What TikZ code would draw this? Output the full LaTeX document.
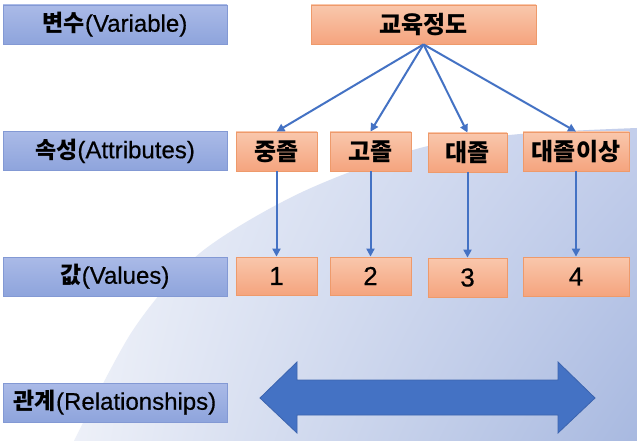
\documentclass[tikz,border=0pt]{standalone}
\usepackage{fontspec}
\setmainfont{Liberation Sans}
\newfontfamily\latm{Liberation Sans}[FakeBold=0.5]
\newfontfamily\kr{Noto Sans CJK KR}
\usetikzlibrary{arrows.meta,shadings}
\definecolor{bgul}{HTML}{F1F4FA}
\definecolor{bgur}{HTML}{C3CEEB}
\definecolor{bgll}{HTML}{EDF0F8}
\definecolor{bglr}{HTML}{A8B9E0}
\definecolor{lbltop}{HTML}{AABAE7}
\definecolor{lblbot}{HTML}{8EA4DC}
\definecolor{lblborder}{HTML}{8399D4}
\definecolor{ortop}{HTML}{F9C7AC}
\definecolor{orbot}{HTML}{F5A47E}
\definecolor{orborder}{HTML}{EE9A6B}
\definecolor{arrowblue}{HTML}{4472C4}
\definecolor{arrowedge}{HTML}{3C64AE}
\tikzset{
  lbl/.style={draw=lblborder, line width=0.8pt, top color=lbltop, bottom color=lblbot,
    minimum width=224pt, minimum height=39pt, inner sep=0pt,
    font=\latm\fontsize{24}{26}\selectfont},
  obox/.style={draw=orborder, line width=0.8pt, top color=ortop, bottom color=orbot,
    minimum width=81pt, minimum height=39pt, inner sep=0pt},
  krb/.style={font=\kr\bfseries\fontsize{24}{26}\selectfont},
  num/.style={font=\latm\fontsize{26}{28}\selectfont},
  conn/.style={draw=arrowblue, line width=2pt, -{Triangle[length=8pt,width=8pt]}}
}
\newcommand{\hg}[1]{{\kr\bfseries\fontsize{23}{25}\selectfont #1}}
\begin{document}
\begin{tikzpicture}[x=1pt,y=-1pt]
\useasboundingbox (0,0) rectangle (637,441);
\fill[white] (0,0) rectangle (637,441);
% background swoosh
\shade[upper left=bgul, upper right=bgur, lower left=bgll, lower right=bglr]
  plot[smooth] coordinates {(74,441) (133,330) (200,253) (300,193) (420,148) (520,134) (637,128)}
  -- (637,441) -- cycle;
% left labels
\node[lbl] (var) at (115,24.5) {\hg{변수}(Variable)};
\node[lbl] (attr) at (115,151) {\hg{속성}(Attributes)};
\node[lbl] (val) at (115,276.5) {\hg{값}(Values)};
\node[lbl] (rel) at (115,402.5) {\hg{관계}(Relationships)};
% top
\node[obox, krb, minimum width=225pt] (edu) at (423.5,24.5) {교육정도};
% attributes
\node[obox, krb] (a1) at (276.5,151.5) {중졸};
\node[obox, krb] (a2) at (370.5,151.5) {고졸};
\node[obox, krb, minimum width=79pt] (a3) at (467.5,152.5) {대졸};
\node[obox, krb, minimum width=106pt] (a4) at (576,151.5) {대졸이상};
% values
\node[obox, num, minimum height=38pt] (v1) at (276.5,276) {1};
\node[obox, num, minimum height=38pt] (v2) at (370.5,276) {2};
\node[obox, num, minimum width=79pt] (v3) at (467.5,277.5) {3};
\node[obox, num, minimum width=106pt] (v4) at (576,276.5) {4};
% connectors
\coordinate (src) at (edu.south);
\foreach \a in {a1,a2,a3,a4} {\draw[conn] (src) -- (\a.north);}
\draw[conn] (a1.south) -- (v1.north);
\draw[conn] (a2.south) -- (v2.north);
\draw[conn] (a3.south) -- (v3.north);
\draw[conn] (a4.south) -- (v4.north);
% double arrow
\draw[fill=arrowblue, draw=arrowedge, line width=0.8pt, line join=miter]
  (260,398) -- (297,362) -- (297,380) -- (558,380) -- (558,362) -- (595,398)
  -- (558,433) -- (558,415) -- (297,415) -- (297,433) -- cycle;
\end{tikzpicture}
\end{document}
